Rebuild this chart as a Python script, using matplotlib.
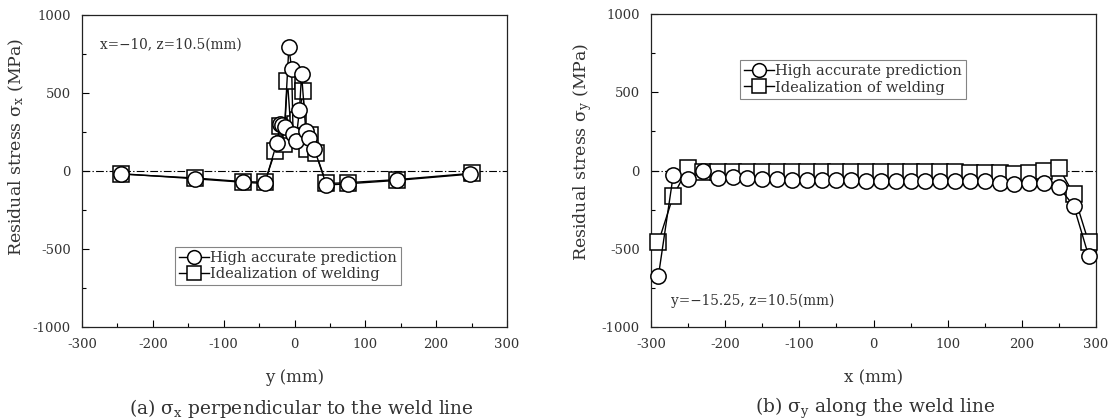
import matplotlib
matplotlib.use("Agg")
import matplotlib.pyplot as plt
from matplotlib.ticker import MultipleLocator

plt.rcParams['font.family'] = ['DejaVu Serif']
plt.rcParams['mathtext.fontset'] = 'dejavuserif'
plt.rcParams['axes.unicode_minus'] = False

# ---------------- data: panel (a) sigma_x vs y ----------------
a_high_y = [-245, -140, -73, -42, -25, -20, -17, -14, -8, -4, -2, 2, 7, 10, 16, 20, 28, 45, 75, 145, 248]
a_high_s = [-17, -50, -72, -80, 180, 300, 295, 285, 793, 655, 240, 195, 390, 622, 255, 210, 142, -90, -82, -60, -20]
a_ideal_y = [-245, -140, -73, -42, -27, -20, -15, -10, -5, 0, 5, 12, 17, 22, 30, 45, 75, 145, 250]
a_ideal_s = [-20, -45, -68, -72, 130, 290, 175, 580, 260, 300, 330, 510, 140, 230, 115, -80, -75, -55, -15]

# ---------------- data: panel (b) sigma_y vs x ----------------
b_x = [-290, -270, -250, -230, -210, -190, -170, -150, -130, -110, -90, -70, -50, -30, -10,
       10, 30, 50, 70, 90, 110, 130, 150, 170, 190, 210, 230, 250, 270, 290]
b_high = [-673, -30, -57, -5, -47, -40, -51, -53, -57, -62, -62, -62, -62, -62, -64,
          -64, -64, -64, -64, -68, -68, -68, -68, -78, -89, -78, -78, -106, -227, -545]
b_ideal = [-458, -162, 17, -8, -12, -12, -12, -12, -12, -12, -12, -12, -12, -12, -12,
           -12, -12, -12, -12, -12, -12, -15, -15, -18, -20, -18, -5, 17, -152, -458]

labels = ["High accurate prediction", "Idealization of welding"]

W, H = 1109, 420
fig = plt.figure(figsize=(W / 100, H / 100), dpi=100)

def frac(x0, y0, x1, y1):
    return [x0 / W, 1 - y1 / H, (x1 - x0) / W, (y1 - y0) / H]

axa = fig.add_axes(frac(82, 15, 507, 327))
axb = fig.add_axes(frac(651, 14, 1096, 327))

tc = '#333333'
mk = dict(markersize=11, markerfacecolor='white', markeredgecolor='black',
          markeredgewidth=1.1, color='black', linewidth=1.0)

def style(ax):
    ax.set_xlim(-300, 300)
    ax.set_ylim(-1000, 1000)
    ax.xaxis.set_major_locator(MultipleLocator(100))
    ax.xaxis.set_minor_locator(MultipleLocator(50))
    ax.yaxis.set_major_locator(MultipleLocator(500))
    ax.yaxis.set_minor_locator(MultipleLocator(250))
    ax.tick_params(which='both', direction='in', top=False, right=False,
                   labelsize=9.5, labelcolor=tc, pad=8)
    ax.tick_params(which='major', length=5, width=0.8)
    ax.tick_params(which='minor', length=3, width=0.8)
    for s in ax.spines.values():
        s.set_linewidth(0.9)
        s.set_color('#222222')
    ax.axhline(0, color='black', linewidth=0.8, linestyle=(0, (7, 2, 1.2, 2)), zorder=1)

def legend(ax, anchor):
    h, l = ax.get_legend_handles_labels()
    leg = ax.legend(h[::-1], l[::-1], loc='upper left', bbox_to_anchor=anchor,
                    frameon=True, fancybox=False, edgecolor='#666666', fontsize=10.5,
                    handlelength=2.0, handletextpad=0.1, borderpad=0.3, labelspacing=0.15,
                    borderaxespad=0, markerscale=0.9)
    leg.get_frame().set_linewidth(0.8)
    for t in leg.get_texts():
        t.set_color(tc)

# panel (a)
axa.plot(a_ideal_y, a_ideal_s, marker='s', label=labels[1], zorder=3, **mk)
axa.plot(a_high_y, a_high_s, marker='o', label=labels[0], zorder=4, **mk)
style(axa)
axa.set_xlabel('y (mm)', fontsize=12, color=tc)
axa.xaxis.set_label_coords(0.5, -0.135)
axa.set_ylabel('Residual stress σ$_{\\mathrm{x}}$ (MPa)', fontsize=12.5, color=tc)
axa.yaxis.set_label_coords(-0.132, 0.577)
axa.text(0.043, 0.905, 'x=−10, z=10.5(mm)', transform=axa.transAxes, fontsize=9.8, color=tc,
         va='center', ha='left')
legend(axa, (0.219, 0.258))

# panel (b)
axb.plot(b_x, b_ideal, marker='s', label=labels[1], zorder=3, clip_on=False, **mk)
axb.plot(b_x, b_high, marker='o', label=labels[0], zorder=4, clip_on=False, **mk)
style(axb)
axb.set_xlabel('x (mm)', fontsize=12, color=tc)
axb.xaxis.set_label_coords(0.5, -0.135)
axb.set_ylabel('Residual stress σ$_{\\mathrm{y}}$ (MPa)', fontsize=12.5, color=tc)
axb.yaxis.set_label_coords(-0.128, 0.56)
axb.text(0.045, 0.085, 'y=−15.25, z=10.5(mm)', transform=axb.transAxes, fontsize=9.8, color=tc,
         va='center', ha='left')
legend(axb, (0.2, 0.853))

fig.text(301 / W, 1 - 408 / H, '(a) σ$_{\\mathrm{x}}$ perpendicular to the weld line',
         ha='center', va='center', fontsize=13.4, color=tc)
fig.text(875 / W, 1 - 408 / H, '(b) σ$_{\\mathrm{y}}$ along the weld line',
         ha='center', va='center', fontsize=13.4, color=tc)

fig.savefig('out.png', dpi=100)
